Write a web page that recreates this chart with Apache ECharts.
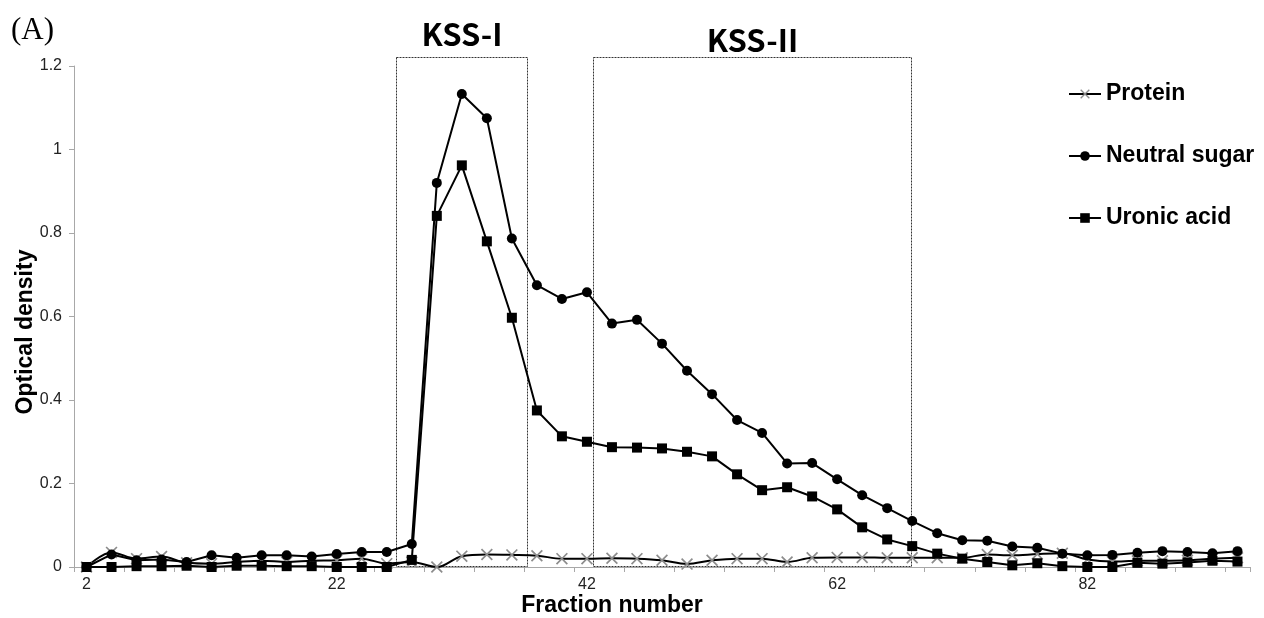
<!DOCTYPE html>
<html>
<head>
<meta charset="utf-8">
<script src="https://cdn.jsdelivr.net/npm/echarts@6/dist/echarts.min.js"></script>
<style>
  html, body { margin: 0; padding: 0; background: #fff; }
  #chart { width: 1264px; height: 618px; }
</style>
</head>
<body>
<div id="chart"></div>
<script>
// fraction numbers (x categories)
var fractions = [2, 4, 6, 8, 10, 12, 14, 16, 18, 20, 22, 24, 26, 28, 30, 32, 34, 36, 38, 40,
  42, 44, 46, 48, 50, 52, 54, 56, 58, 60, 62, 64, 66, 68, 70, 72, 74, 76, 78, 80,
  82, 84, 86, 88, 90, 92, 94];

// optical density readings
var protein = [0, 0.035, 0.02, 0.025, 0.01, 0.008, 0.012, 0.015, 0.012, 0.015,
  0.016, 0.02, 0.008, 0.012, 0, 0.026, 0.03, 0.029, 0.027, 0.02,
  0.02, 0.021, 0.02, 0.016, 0.007, 0.016, 0.02, 0.02, 0.012, 0.022,
  0.023, 0.023, 0.022, 0.022, 0.022, 0.022, 0.03, 0.028, 0.031, 0.033,
  0.018, 0.013, 0.015, 0.015, 0.016, 0.02, 0.022];
var neutralSugar = [0, 0.03, 0.016, 0.018, 0.012, 0.028, 0.022, 0.028, 0.028, 0.025,
  0.031, 0.036, 0.036, 0.055, 0.92, 1.133, 1.075, 0.787, 0.675, 0.642,
  0.658, 0.583, 0.592, 0.535, 0.47, 0.414, 0.352, 0.321, 0.248, 0.249,
  0.21, 0.172, 0.141, 0.11, 0.081, 0.064, 0.063, 0.049, 0.046, 0.032,
  0.028, 0.029, 0.034, 0.038, 0.036, 0.033, 0.038];
var uronicAcid = [0, 0, 0.002, 0.002, 0.003, 0, 0.003, 0.003, 0.002, 0.002,
  0, 0, 0, 0.017, 0.841, 0.962, 0.78, 0.597, 0.375, 0.313,
  0.3, 0.287, 0.286, 0.284, 0.276, 0.265, 0.222, 0.184, 0.191, 0.169,
  0.138, 0.095, 0.066, 0.05, 0.032, 0.02, 0.012, 0.004, 0.009, 0.002,
  0, 0, 0.01, 0.008, 0.011, 0.015, 0.013];

// pooled regions (fraction number ranges)
var pools = [
  { name: 'KSS-I', from: 26.7, to: 37.2, lift: 23 },
  { name: 'KSS-II', from: 42.5, to: 67.9, lift: 17 }
];
var poolTop = 1.222;

var crossPath = 'path://M0,1L1,0L10,9L9,10Z M9,0L10,1L1,10L0,9Z';
var axisGrey = '#a8a8a8';

var chart = echarts.init(document.getElementById('chart'));

var option = {
  animation: false,
  backgroundColor: '#fff',
  textStyle: { fontFamily: 'Liberation Sans, Arial, sans-serif' },
  grid: { left: 74, right: 14, top: 66, bottom: 51 },
  legend: {
    orient: 'vertical',
    left: 1063,
    top: 75,
    itemWidth: 32,
    itemHeight: 12,
    itemGap: 34,
    textStyle: { fontSize: 23, fontWeight: 'bold', color: '#000', lineHeight: 28 },
    data: ['Protein', 'Neutral sugar', 'Uronic acid']
  },
  xAxis: [{
    type: 'category',
    data: fractions,
    boundaryGap: true,
    axisLine: { lineStyle: { color: axisGrey, width: 1 } },
    axisTick: { show: true, interval: 1, length: 5, lineStyle: { color: axisGrey, width: 1 } },
    axisLabel: { interval: 9, color: '#222', fontSize: 16, margin: 10 },
    splitLine: { show: false }
  }, {
    type: 'value',
    min: 1,
    max: 95,
    show: false
  }],
  yAxis: {
    type: 'value',
    min: 0,
    max: 1.2,
    interval: 0.2,
    axisLine: { show: true, lineStyle: { color: axisGrey } },
    axisTick: { show: true, length: 5, lineStyle: { color: axisGrey } },
    axisLabel: { color: '#222', fontSize: 16, margin: 12 },
    splitLine: { show: false }
  },
  series: [{
    name: 'Protein',
    type: 'line',
    data: protein,
    smooth: 0.35,
    symbol: crossPath,
    symbolSize: 12,
    itemStyle: { color: '#8c8c8c' },
    lineStyle: { color: '#000', width: 2 },
    z: 2
  }, {
    name: 'Neutral sugar',
    type: 'line',
    data: neutralSugar,
    symbol: 'circle',
    symbolSize: 10,
    itemStyle: { color: '#000' },
    lineStyle: { color: '#000', width: 2 },
    z: 3
  }, {
    name: 'Uronic acid',
    type: 'line',
    data: uronicAcid,
    symbol: 'rect',
    symbolSize: 10,
    itemStyle: { color: '#000' },
    lineStyle: { color: '#000', width: 2 },
    z: 3
  }]
};

chart.setOption(option);

// dotted boxes and labels for the pooled regions, placed through the axes
function drawPools() {
  var els = [];
  pools.forEach(function (p) {
    var a = chart.convertToPixel({ xAxisIndex: 1, yAxisIndex: 0 }, [p.from, poolTop]);
    var b = chart.convertToPixel({ xAxisIndex: 1, yAxisIndex: 0 }, [p.to, 0]);
    var x0 = Math.round(a[0]) + 0.5, x1 = Math.round(b[0]) + 0.5;
    var y0 = Math.round(a[1]) + 0.5, y1 = Math.round(b[1]) - 0.5;
    els.push({
      type: 'rect',
      shape: { x: x0, y: y0, width: x1 - x0, height: y1 - y0 },
      style: { fill: 'none', stroke: '#333', lineWidth: 1, lineDash: [2, 1] },
      silent: true,
      z: 1
    });
    els.push({
      type: 'text',
      x: (x0 + x1) / 2,
      y: y0 - p.lift,
      style: {
        text: p.name,
        fontFamily: 'Noto Sans CJK KR, Noto Sans, sans-serif',
        fontWeight: 'bold',
        fontSize: 31,
        fill: '#000',
        align: 'center',
        verticalAlign: 'middle'
      }
    });
  });
  els.push({
    type: 'text', x: 11, y: 31,
    style: { text: '(A)', fontFamily: 'Liberation Serif, Times New Roman, serif', fontSize: 31,
      fill: '#000', verticalAlign: 'middle' }
  });
  els.push({
    type: 'text', x: 26, y: 332, rotation: Math.PI / 2,
    style: { text: 'Optical density', fontFamily: 'Liberation Sans, Arial, sans-serif',
      fontWeight: 'bold', fontSize: 23, fill: '#000', align: 'center', verticalAlign: 'middle' }
  });
  els.push({
    type: 'text', x: 612, y: 606,
    style: { text: 'Fraction number', fontFamily: 'Liberation Sans, Arial, sans-serif',
      fontWeight: 'bold', fontSize: 23, fill: '#000', align: 'center', verticalAlign: 'middle' }
  });
  chart.setOption({ graphic: els });
}
drawPools();
</script>
</body>
</html>
